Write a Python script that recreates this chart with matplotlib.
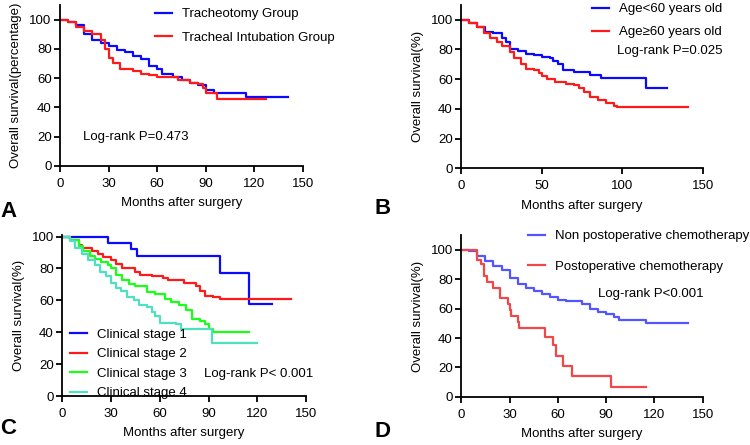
import numpy as np
import matplotlib
matplotlib.use("Agg")
import matplotlib.pyplot as plt

plt.rcParams['font.family'] = ['Liberation Sans', 'DejaVu Sans']
plt.rcParams['font.size'] = 9.5

# ---- data: (time in months, survival %) ----
# panel A
a_trach_t = [0, 5, 10, 15, 20, 25, 30, 35, 40, 45, 50, 55, 60, 63, 70, 75, 80, 85, 90, 95, 115, 141]
a_trach_s = [100, 98, 96, 90, 86, 84, 82, 79, 78, 75, 73, 68, 66, 63, 61, 59, 57, 55, 52, 50, 47, 47]
a_intub_t = [0, 5, 10, 15, 20, 25, 28, 30, 33, 37, 45, 50, 55, 60, 73, 80, 85, 88, 90, 97, 127]
a_intub_s = [100, 98, 95, 92, 90, 86, 80, 74, 70, 66, 65, 63, 62, 61, 59, 57, 56, 53, 50, 46, 46]

# panel B
b_young_t = [0, 5, 10, 15, 20, 25, 28, 30, 35, 40, 45, 50, 55, 57, 60, 63, 70, 80, 87, 115, 128]
b_young_s = [100, 98, 95, 92, 91, 88, 85, 80, 79, 77, 76, 75, 74, 72, 70, 66, 65, 63, 61, 54, 54]
b_old_t = [0, 5, 10, 14, 18, 22, 25, 30, 33, 37, 40, 45, 48, 50, 53, 58, 65, 70, 73, 76, 80, 85, 90, 95, 97, 141]
b_old_s = [100, 98, 95, 91, 88, 85, 82, 78, 74, 70, 67, 66, 64, 62, 60, 58, 57, 56, 54, 51, 48, 46, 44, 42, 41, 41]

# panel C
c1_t = [0, 28, 42, 46, 97, 115, 129]
c1_s = [100, 96, 92, 88, 77, 58, 58]
c2_t = [0, 5, 10, 12, 18, 22, 25, 30, 33, 37, 45, 48, 55, 62, 65, 75, 82, 85, 88, 93, 97, 141]
c2_s = [100, 98, 95, 93, 91, 89, 87, 85, 83, 80, 78, 76, 75, 74, 73, 71, 69, 66, 63, 62, 61, 61]
c3_t = [0, 5, 10, 13, 17, 20, 24, 28, 30, 33, 37, 41, 45, 52, 57, 63, 67, 72, 76, 80, 85, 88, 90, 93, 115]
c3_s = [100, 98, 94, 91, 88, 86, 84, 82, 80, 76, 73, 70, 69, 65, 64, 61, 59, 57, 54, 48, 47, 45, 42, 40, 40]
c4_t = [0, 5, 8, 12, 16, 20, 23, 27, 30, 33, 36, 40, 44, 47, 52, 55, 57, 60, 70, 73, 92, 120]
c4_s = [100, 97, 93, 89, 85, 82, 78, 75, 71, 68, 66, 62, 60, 57, 56, 53, 50, 46, 45, 42, 33, 33]

# panel D
d_non_t = [0, 5, 10, 15, 20, 25, 30, 35, 40, 45, 50, 55, 60, 65, 75, 80, 85, 90, 95, 98, 115, 141]
d_non_s = [100, 99, 96, 92, 89, 86, 81, 77, 74, 72, 70, 68, 66, 65, 63, 60, 58, 56, 54, 52, 50, 50]
d_chemo_t = [0, 10, 12, 14, 16, 20, 24, 29, 30, 31, 35, 36, 52, 57, 59, 63, 69, 93, 115]
d_chemo_s = [100, 93, 90, 82, 78, 74, 67, 63, 59, 55, 51, 47, 41, 35, 28, 21, 14, 7, 7]

BLUE = '#0a0aff'
RED = '#ff1a1a'
GREEN = '#1aff1a'
TURQ = '#4ee0c0'
LBLUE = '#5555ff'
LRED = '#f04848'
FS = 9.5

fig = plt.figure(figsize=(7.5, 4.45), dpi=100)


def km(ax, t, s, color, label):
    ax.step(t, s, where='post', color=color, lw=1.6, label=label)


def style(ax, ytop, xticks):
    ax.set_xlim(0, 150)
    ax.set_ylim(0, ytop)
    ax.set_xticks(xticks)
    ax.set_yticks([0, 20, 40, 60, 80, 100])
    for sp in ['top', 'right']:
        ax.spines[sp].set_visible(False)
    for sp in ['left', 'bottom']:
        ax.spines[sp].set_linewidth(1.3)
    ax.tick_params(direction='out', length=4, width=1.3, labelsize=FS, pad=2)
    ax.tick_params(axis='x', pad=4.5)
    ax.set_xlabel('Months after surgery', fontsize=FS, labelpad=5.5)
    ax.set_ylabel('Overall survival(%)', fontsize=FS, labelpad=5)


leg_kw = dict(frameon=False, handlelength=1.3, handletextpad=0.75, fontsize=FS, borderpad=0, borderaxespad=0)

# A
axA = fig.add_axes([0.080, 0.627, 0.324, 0.362])
km(axA, a_trach_t, a_trach_s, BLUE, 'Tracheotomy Group')
km(axA, a_intub_t, a_intub_s, RED, 'Tracheal Intubation Group')
style(axA, 110, [0, 30, 60, 90, 120, 150])
axA.set_ylabel('Overall survival(percentage)', fontsize=FS, labelpad=5)
axA.legend(loc='upper left', bbox_to_anchor=(0.39, 0.98), labelspacing=0.85, **leg_kw)
axA.text(0.095, 0.18, 'Log-rank P=0.473', transform=axA.transAxes, va='center', fontsize=FS)

# B
axB = fig.add_axes([0.615, 0.622, 0.322, 0.367])
km(axB, b_young_t, b_young_s, BLUE, 'Age<60 years old')
km(axB, b_old_t, b_old_s, RED, 'Age\u226560 years old')
style(axB, 110, [0, 50, 100, 150])
axB.legend(loc='upper left', bbox_to_anchor=(0.54, 1.01), labelspacing=0.8, **leg_kw)
axB.text(0.645, 0.72, 'Log-rank P=0.025', transform=axB.transAxes, va='center', fontsize=FS)

# C
axC = fig.add_axes([0.083, 0.110, 0.325, 0.362])
km(axC, c1_t, c1_s, BLUE, 'Clinical stage 1')
km(axC, c2_t, c2_s, RED, 'Clinical stage 2')
km(axC, c3_t, c3_s, GREEN, 'Clinical stage 3')
km(axC, c4_t, c4_s, TURQ, 'Clinical stage 4')
style(axC, 101, [0, 30, 60, 90, 120, 150])
axC.legend(loc='lower left', bbox_to_anchor=(0.033, -0.02), labelspacing=0.55, **leg_kw)
axC.text(0.58, 0.137, 'Log-rank P< 0.001', transform=axC.transAxes, va='center', fontsize=FS)

# D
axD = fig.add_axes([0.615, 0.108, 0.322, 0.364])
km(axD, d_non_t, d_non_s, LBLUE, 'Non postoperative chemotherapy')
km(axD, d_chemo_t, d_chemo_s, LRED, 'Postoperative chemotherapy')
style(axD, 110, [0, 30, 60, 90, 120, 150])
axD.legend(loc='upper left', bbox_to_anchor=(0.277, 1.03), labelspacing=1.4, **leg_kw)
axD.text(0.566, 0.636, 'Log-rank P<0.001', transform=axD.transAxes, va='center', fontsize=FS)

# panel letters
for lab, x, y in [('A', 0.0, 0.548), ('B', 0.5, 0.555), ('C', 0.0, 0.060), ('D', 0.5, 0.053)]:
    fig.text(x, y, lab, fontsize=16, fontweight='bold', va='top', ha='left')

fig.savefig('out.png', dpi=100)
